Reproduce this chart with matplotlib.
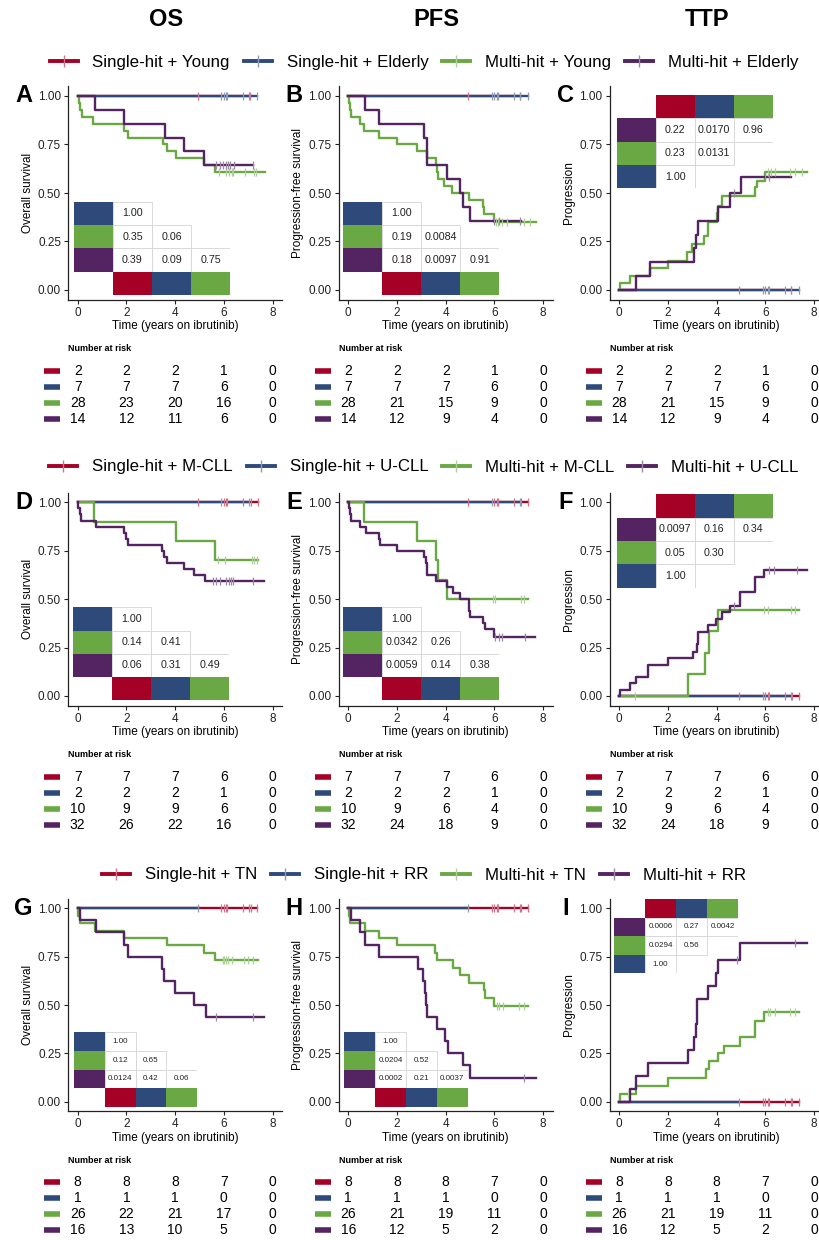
import numpy as np
import matplotlib.pyplot as plt
from matplotlib.patches import Rectangle
from matplotlib.lines import Line2D
from matplotlib.colors import to_rgb

plt.rcParams['font.family'] = ['Liberation Sans', 'DejaVu Sans']

W, H = 820, 1240
RED = '#A50026'
BLUE = '#2E4A7B'
GREEN = '#6AA843'
PURPLE = '#532461'
colors = [RED, BLUE, GREEN, PURPLE]

col_titles = ['OS', 'PFS', 'TTP']
letters = ['A', 'B', 'C', 'D', 'E', 'F', 'G', 'H', 'I']
ylabels = ['Overall survival', 'Progression-free survival', 'Progression']
legend_labels = [
    ['Single-hit + Young', 'Single-hit + Elderly', 'Multi-hit + Young', 'Multi-hit + Elderly'],
    ['Single-hit + M-CLL', 'Single-hit + U-CLL', 'Multi-hit + M-CLL', 'Multi-hit + U-CLL'],
    ['Single-hit + TN', 'Single-hit + RR', 'Multi-hit + TN', 'Multi-hit + RR'],
]
risk_times = [0, 2, 4, 6, 8]

# ---- single-hit groups (no events) : censor times
age_red_c = [4.92, 7.07]
age_blue_c = [5.9, 6.0, 6.1, 6.15, 6.8, 7.05, 7.37]
ighv_red_c = [4.92, 6.0, 6.1, 6.15, 6.8, 7.1, 7.4]
ighv_blue_c = [5.9, 7.05]
tx_red_c = [5.9, 6.0, 6.1, 6.15, 6.8, 7.05, 7.1, 7.37]
tx_blue_c = [4.92]

# ---- row 1 : age
a_green_t = [0.05, 0.1, 0.16, 0.64, 1.9, 2.08, 3.49, 3.65, 4.03, 5.18, 5.64]
a_green_s = [0.964, 0.929, 0.893, 0.857, 0.821, 0.786, 0.75, 0.714, 0.679, 0.643, 0.607]
a_green_c = [5.8, 6.11, 6.22, 6.32, 6.39, 6.87, 7.24, 7.32]
a_purple_t = [0.71, 1.9, 3.6, 4.38, 5.18]
a_purple_s = [0.929, 0.857, 0.786, 0.714, 0.643]
a_purple_c = [5.7, 5.84, 5.98, 6.1, 6.18, 6.25, 6.4, 7.2]

b_green_t = [0.03, 0.06, 0.1, 0.48, 0.64, 1.28, 1.99, 2.81, 3.22, 3.59, 3.63, 3.7, 3.91, 4.25, 4.94, 5.53, 5.58, 5.97]
b_green_s = [0.964, 0.929, 0.893, 0.857, 0.821, 0.786, 0.75, 0.714, 0.679, 0.643, 0.607, 0.571, 0.536, 0.5, 0.464, 0.429, 0.393, 0.35]
b_green_c = [6.05, 6.15, 6.3, 6.5, 7.2, 7.45]
b_purple_t = [0.69, 1.26, 3.09, 3.22, 4.05, 4.6, 4.73, 5.0]
b_purple_s = [0.929, 0.857, 0.786, 0.643, 0.571, 0.5, 0.429, 0.357]
b_purple_c = [6.0, 6.2, 7.05]

c_green_t = [0.03, 0.44, 1.26, 1.99, 2.8, 3.0, 3.48, 3.66, 4.0, 4.07, 4.21, 5.56, 5.65, 5.99]
c_green_s = [0.036, 0.071, 0.115, 0.152, 0.194, 0.235, 0.28, 0.352, 0.399, 0.433, 0.485, 0.53, 0.56, 0.607]
c_green_c = [6.1, 6.25, 6.4, 7.0, 7.2, 7.5]
c_purple_t = [0.69, 1.26, 3.05, 3.14, 3.25, 4.05, 4.53, 5.0]
c_purple_s = [0.071, 0.143, 0.214, 0.286, 0.357, 0.429, 0.5, 0.585]
c_purple_c = [4.73, 6.0, 6.13]

# ---- row 2 : IGHV
d_green_t = [0.67, 4.02, 5.64]
d_green_s = [0.9, 0.8, 0.7]
d_green_c = [5.75, 6.05, 7.14, 7.24, 7.35]
d_purple_t = [0.03, 0.1, 0.15, 0.74, 1.9, 1.98, 2.08, 3.47, 3.55, 3.65, 4.38, 4.79, 5.23]
d_purple_s = [0.969, 0.938, 0.906, 0.875, 0.844, 0.812, 0.781, 0.75, 0.719, 0.688, 0.656, 0.625, 0.594]
d_purple_c = [5.57, 5.7, 5.84, 6.1, 6.2, 6.3, 6.38, 7.2]

e_green_t = [0.66, 2.81, 3.6, 3.7, 4.05]
e_green_s = [0.9, 0.8, 0.7, 0.6, 0.5]
e_green_c = [5.93, 6.04, 7.09, 7.2]
e_purple_t = [0.03, 0.06, 0.1, 0.48, 0.73, 1.28, 1.3, 1.99, 3.11, 3.18, 3.22, 3.24, 3.59, 4.05, 4.32, 4.6, 4.94, 4.97, 5.0, 5.53, 5.62, 5.97]
e_purple_s = [0.969, 0.938, 0.906, 0.875, 0.844, 0.812, 0.781, 0.75, 0.719, 0.688, 0.656, 0.625, 0.594, 0.562, 0.531, 0.5, 0.469, 0.438, 0.406, 0.375, 0.344, 0.306]
e_purple_c = [6.04, 6.17, 6.31, 7.27]

f_green_t = [2.84, 3.53, 3.69, 4.05]
f_green_s = [0.111, 0.222, 0.333, 0.444]
f_green_c = [0.64, 5.95, 6.09, 7.06, 7.2]
f_purple_t = [0.03, 0.44, 0.69, 1.19, 1.99, 3.02, 3.18, 3.22, 3.66, 3.98, 4.21, 4.53, 4.97, 5.56, 5.58, 5.93]
f_purple_s = [0.032, 0.065, 0.097, 0.161, 0.194, 0.226, 0.268, 0.33, 0.367, 0.4, 0.433, 0.467, 0.537, 0.571, 0.613, 0.65]
f_purple_c = [4.72, 6.13, 6.34, 7.3]

# ---- row 3 : treatment status
g_green_t = [0.03, 0.1, 0.7, 1.9, 3.65, 5.18, 5.64]
g_green_s = [0.962, 0.923, 0.885, 0.846, 0.808, 0.769, 0.731]
g_green_c = [5.95, 6.0, 6.08, 6.18, 6.32, 6.83, 7.0, 7.2]
g_purple_t = [0.1, 0.74, 1.9, 2.08, 3.47, 3.55, 4.0, 4.79, 5.25]
g_purple_s = [0.9375, 0.875, 0.8125, 0.75, 0.6875, 0.625, 0.5625, 0.5, 0.4375]
g_purple_c = [5.7, 7.2]

h_green_t = [0.03, 0.06, 0.69, 1.28, 1.99, 3.57, 3.64, 4.29, 4.6, 4.97, 5.56, 5.62, 5.97]
h_green_s = [0.962, 0.923, 0.885, 0.846, 0.808, 0.769, 0.731, 0.692, 0.654, 0.615, 0.577, 0.538, 0.494]
h_green_c = [6.1, 6.2, 6.35, 7.0, 7.2]
h_purple_t = [0.1, 0.48, 0.69, 1.28, 2.85, 3.06, 3.16, 3.2, 3.22, 3.64, 3.98, 4.09, 4.73, 5.0]
h_purple_s = [0.9375, 0.875, 0.8125, 0.75, 0.6875, 0.625, 0.5625, 0.5, 0.4375, 0.375, 0.3125, 0.25, 0.1875, 0.125]
h_purple_c = [7.2]

i_green_t = [0.03, 0.69, 1.99, 3.55, 3.7, 4.07, 4.32, 4.97, 5.56, 5.58, 5.95]
i_green_s = [0.04, 0.083, 0.125, 0.167, 0.208, 0.25, 0.29, 0.333, 0.375, 0.417, 0.463]
i_green_c = [0.35, 6.1, 6.2, 6.4, 7.0, 7.2]
i_purple_t = [0.44, 0.69, 1.19, 2.81, 3.05, 3.14, 3.21, 3.66, 3.98, 4.05, 4.97]
i_purple_s = [0.067, 0.133, 0.2, 0.267, 0.333, 0.4, 0.533, 0.6, 0.667, 0.733, 0.822]
i_purple_c = [4.85, 7.2]

# curve = (times, values, censor times, end time)
panels = [
    [([], [], age_red_c, 7.07), ([], [], age_blue_c, 7.37),
     (a_green_t, a_green_s, a_green_c, 7.69), (a_purple_t, a_purple_s, a_purple_c, 7.2)],
    [([], [], age_red_c, 7.07), ([], [], age_blue_c, 7.37),
     (b_green_t, b_green_s, b_green_c, 7.7), (b_purple_t, b_purple_s, b_purple_c, 7.1)],
    [([], [], age_red_c, 7.07), ([], [], age_blue_c, 7.37),
     (c_green_t, c_green_s, c_green_c, 7.7), (c_purple_t, c_purple_s, c_purple_c, 7.05)],
    [([], [], ighv_red_c, 7.4), ([], [], ighv_blue_c, 7.05),
     (d_green_t, d_green_s, d_green_c, 7.4), (d_purple_t, d_purple_s, d_purple_c, 7.66)],
    [([], [], ighv_red_c, 7.4), ([], [], ighv_blue_c, 7.05),
     (e_green_t, e_green_s, e_green_c, 7.4), (e_purple_t, e_purple_s, e_purple_c, 7.68)],
    [([], [], ighv_red_c, 7.4), ([], [], ighv_blue_c, 7.05),
     (f_green_t, f_green_s, f_green_c, 7.4), (f_purple_t, f_purple_s, f_purple_c, 7.7)],
    [([], [], tx_red_c, 7.37), ([], [], tx_blue_c, 4.92),
     (g_green_t, g_green_s, g_green_c, 7.4), (g_purple_t, g_purple_s, g_purple_c, 7.66)],
    [([], [], tx_red_c, 7.37), ([], [], tx_blue_c, 4.92),
     (h_green_t, h_green_s, h_green_c, 7.4), (h_purple_t, h_purple_s, h_purple_c, 7.7)],
    [([], [], tx_red_c, 7.37), ([], [], tx_blue_c, 4.92),
     (i_green_t, i_green_s, i_green_c, 7.4), (i_purple_t, i_purple_s, i_purple_c, 7.7)],
]

# pairwise p-values, rows: blue, green, purple ; cols: red, blue, green
pvals = [
    [['1.00'], ['0.35', '0.06'], ['0.39', '0.09', '0.75']],
    [['1.00'], ['0.19', '0.0084'], ['0.18', '0.0097', '0.91']],
    [['1.00'], ['0.23', '0.0131'], ['0.22', '0.0170', '0.96']],
    [['1.00'], ['0.14', '0.41'], ['0.06', '0.31', '0.49']],
    [['1.00'], ['0.0342', '0.26'], ['0.0059', '0.14', '0.38']],
    [['1.00'], ['0.05', '0.30'], ['0.0097', '0.16', '0.34']],
    [['1.00'], ['0.12', '0.65'], ['0.0124', '0.42', '0.06']],
    [['1.00'], ['0.0204', '0.52'], ['0.0002', '0.21', '0.0037']],
    [['1.00'], ['0.0294', '0.56'], ['0.0006', '0.27', '0.0042']],
]

# number at risk, rows: red, blue, green, purple
risk = [
    [[2, 2, 2, 1, 0], [7, 7, 7, 6, 0], [28, 23, 20, 16, 0], [14, 12, 11, 6, 0]],
    [[2, 2, 2, 1, 0], [7, 7, 7, 6, 0], [28, 21, 15, 9, 0], [14, 12, 9, 4, 0]],
    [[2, 2, 2, 1, 0], [7, 7, 7, 6, 0], [28, 21, 15, 9, 0], [14, 12, 9, 4, 0]],
    [[7, 7, 7, 6, 0], [2, 2, 2, 1, 0], [10, 9, 9, 6, 0], [32, 26, 22, 16, 0]],
    [[7, 7, 7, 6, 0], [2, 2, 2, 1, 0], [10, 9, 6, 4, 0], [32, 24, 18, 9, 0]],
    [[7, 7, 7, 6, 0], [2, 2, 2, 1, 0], [10, 9, 6, 4, 0], [32, 24, 18, 9, 0]],
    [[8, 8, 8, 7, 0], [1, 1, 1, 0, 0], [26, 22, 21, 17, 0], [16, 13, 10, 5, 0]],
    [[8, 8, 8, 7, 0], [1, 1, 1, 0, 0], [26, 21, 19, 11, 0], [16, 12, 5, 2, 0]],
    [[8, 8, 8, 7, 0], [1, 1, 1, 0, 0], [26, 21, 19, 11, 0], [16, 12, 5, 2, 0]],
]

# table placement in pixels: left, top, cell w, cell h, header on top, font size
table_pos = [
    (74, 201.7, 39, 23.3, False, 7.7), (343.3, 201.7, 39, 23.3, False, 7.7), (616.7, 95, 39, 23.3, True, 7.7),
    (73.3, 607.3, 39, 23.2, False, 7.7), (343.3, 607.3, 39, 23.2, False, 7.7), (616.7, 494.3, 39, 23.3, True, 7.7),
    (74, 1032.3, 30.8, 18.6, False, 5.8), (344.3, 1032.3, 30.8, 18.6, False, 5.8), (614.3, 899, 30.9, 18.6, True, 5.8),
]

col_x0 = [77.7, 348.3, 619.3]
ppy = 24.35
row_y1 = [96, 502.3, 908.3]
row_y0 = [290, 696, 1101.7]
legend_y = [62.7, 467, 875]

fig = plt.figure(figsize=(W / 100, H / 100), dpi=100)


def px_axes(l, t, r, b):
    return fig.add_axes([l / W, 1 - b / H, (r - l) / W, (b - t) / H])


def light(c, f=0.45):
    r, g, b = to_rgb(c)
    return (r + (1 - r) * f, g + (1 - g) * f, b + (1 - b) * f)


def draw_curve(ax, curve, start, color):
    t, s, cens, end = curve
    x = np.r_[0, t, end]
    y = np.r_[start, s, s[-1] if len(s) else start]
    ax.step(x, y, where='post', color=color, lw=1.7, zorder=3)
    if len(cens):
        levels = np.r_[start, s]
        idx = np.searchsorted(t, cens, side='right')
        ax.plot(cens, levels[idx], ls='none', marker='|', ms=6, mew=0.9,
                color=light(color), zorder=4)


def draw_table(pos, pv):
    left, top, cw, ch, top_header, fs = pos
    at = px_axes(left, top, left + 4 * cw, top + 4 * ch)
    at.set_xlim(0, 4)
    at.set_ylim(4, 0)
    at.axis('off')
    row_cols = [BLUE, GREEN, PURPLE]
    for k in range(3):
        r = 3 - k if top_header else k
        at.add_patch(Rectangle((0, r), 1, 1, fc=row_cols[k], ec='none'))
        for j, v in enumerate(pv[k]):
            at.add_patch(Rectangle((1 + j, r), 1, 1, fc='white', ec='#D4D4D4', lw=0.6))
            at.text(1.5 + j, r + 0.5, v, ha='center', va='center', fontsize=fs, color='#222222')
    hr = 0 if top_header else 3
    for j, c in enumerate([RED, BLUE, GREEN]):
        at.add_patch(Rectangle((1 + j, hr), 1, 1, fc=c, ec='none'))


for p in range(9):
    i, j = divmod(p, 3)
    x0 = col_x0[j]
    l, r = x0 - 0.4 * ppy, x0 + 8.4 * ppy
    y1, y0 = row_y1[i], row_y0[i]
    pu = y0 - y1
    top, bot = y1 - 0.05 * pu, y0 + 0.05 * pu
    ax = px_axes(l, top, r, bot)
    start = 0 if j == 2 else 1
    for curve, c in zip(panels[p], colors):
        draw_curve(ax, curve, start, c)
    ax.set_xlim(-0.4, 8.4)
    ax.set_ylim(-0.05, 1.05)
    ax.set_xticks(risk_times)
    ax.set_yticks([0, 0.25, 0.5, 0.75, 1])
    ax.set_yticklabels(['0.00', '0.25', '0.50', '0.75', '1.00'])
    ax.tick_params(labelsize=8.5, length=3, width=0.8, pad=2, colors='#222222')
    for sp in ['top', 'right']:
        ax.spines[sp].set_visible(False)
    for sp in ['left', 'bottom']:
        ax.spines[sp].set_linewidth(0.9)
        ax.spines[sp].set_color('#222222')
    ax.set_xlabel('Time (years on ibrutinib)', fontsize=8.5, labelpad=1)
    ax.set_ylabel(ylabels[j], fontsize=8.5, labelpad=3)
    draw_table(table_pos[p], pvals[p])
    fig.text((x0 - 54) / W, 1 - y1 / H, letters[p], fontsize=17, fontweight='bold',
             ha='center', va='center')

    # number at risk
    rk = px_axes(l, bot + 40, r, bot + 130)
    rk.set_xlim(-0.4, 8.4)
    rk.set_ylim(130, 40)
    rk.axis('off')
    rk.text(-0.4, 49.3, 'Number at risk', fontsize=6.5, fontweight='bold', ha='left', va='center')
    for k, (row, c) in enumerate(zip(risk[p], colors)):
        yy = 71 + 16 * k
        rk.plot([-1.38, -0.73], [yy, yy], color=c, lw=4, solid_capstyle='butt', clip_on=False)
        for tt, n in zip(risk_times, row):
            rk.text(tt, yy, str(n), fontsize=10, ha='center', va='center')

for j, title in enumerate(col_titles):
    fig.text((col_x0[j] + 88) / W, 1 - 19 / H, title, fontsize=17, fontweight='bold',
             ha='center', va='center')

for i in range(3):
    handles = [Line2D([0], [0], color=c, lw=2.8, marker='|', ms=8, mew=1, mec=light(c))
               for c in colors]
    fig.legend(handles, legend_labels[i], loc='center', bbox_to_anchor=(424 / W, 1 - legend_y[i] / H),
               ncol=4, frameon=False, fontsize=12.2, handlelength=1.65, handletextpad=0.88,
               columnspacing=0.82, borderpad=0, borderaxespad=0, numpoints=1)

fig.savefig('out.png', dpi=100)
